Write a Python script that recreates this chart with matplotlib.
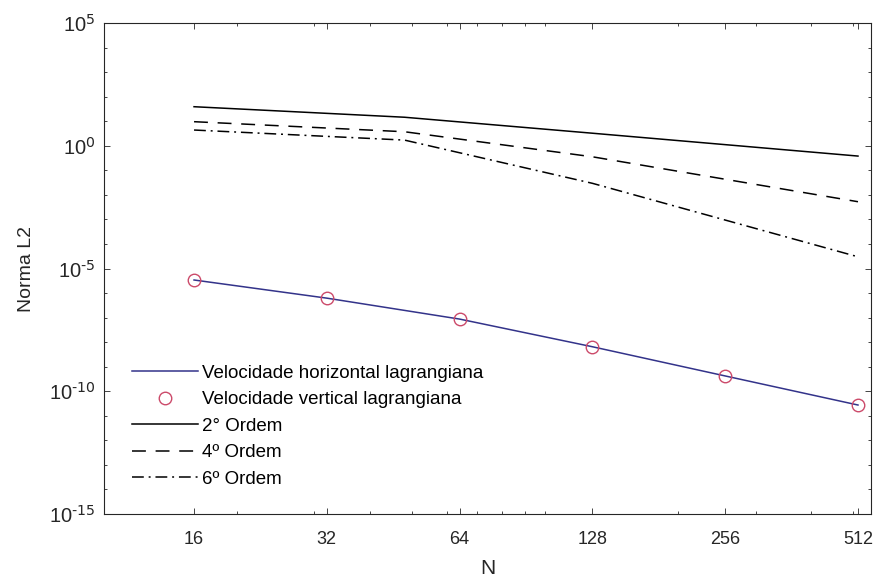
import matplotlib
matplotlib.use("Agg")
import matplotlib.pyplot as plt
from matplotlib.ticker import FixedLocator, NullFormatter

plt.rcParams["font.family"] = ["Liberation Sans", "DejaVu Sans"]
plt.rcParams["axes.unicode_minus"] = False
plt.rcParams["mathtext.default"] = "regular"
plt.rcParams["lines.scale_dashes"] = False

# Grid sizes and L2 norm of the lagrangian velocity error
N = [16, 32, 64, 128, 256, 512]
vel_horizontal = [3.4e-6, 6.2e-7, 8.7e-8, 6.5e-9, 4.2e-10, 2.75e-11]
vel_vertical = [3.4e-6, 6.2e-7, 8.7e-8, 6.5e-9, 4.2e-10, 2.75e-11]

# Reference curves for the 2nd, 4th and 6th order schemes
N_ordem = [16, 48, 128, 512]
ordem2 = [38.9, 14.5, 3.24, 0.38]
ordem4 = [9.55, 3.72, 0.355, 5.25e-3]
ordem6 = [4.37, 1.70, 0.0295, 3.0e-5]

x_ticks = [16, 32, 64, 128, 256, 512]
x_minor = [20, 30, 40, 50, 60, 70, 80, 90, 100, 200, 300, 400, 500]
y_exponents = [-15, -10, -5, 0, 5]
y_minor = [10.0 ** k for k in range(-15, 6) if k % 5 != 0]

labels = ["Velocidade horizontal lagrangiana", "Velocidade vertical lagrangiana",
          "2° Ordem", "4º Ordem", "6º Ordem"]

fig = plt.figure(figsize=(8.78, 5.83), dpi=100)
ax = fig.add_axes([104 / 878, 1 - 514 / 583, 767 / 878, 491 / 583])

ax.plot(N, vel_horizontal, color="#33338a", lw=1.1, label=labels[0])
ax.plot(N, vel_vertical, ls="none", marker="o", ms=9, mfc="none",
        mec="#cc4a6a", mew=1.0, label=labels[1])
ax.plot(N_ordem, ordem2, color="black", lw=1.1, ls="-", label=labels[2])
ax.plot(N_ordem, ordem4, color="black", lw=1.1, ls=(0, (10, 7)), label=labels[3])
ax.plot(N_ordem, ordem6, color="black", lw=1.1, ls=(0, (8.5, 3.5, 1.4, 3.5)), label=labels[4])

ax.set_xscale("log")
ax.set_yscale("log")
ax.set_xlim(10, 548)
ax.set_ylim(1e-15, 1e5)

ax.xaxis.set_major_locator(FixedLocator(x_ticks))
ax.set_xticklabels([str(v) for v in x_ticks])
ax.xaxis.set_minor_locator(FixedLocator(x_minor))
ax.xaxis.set_minor_formatter(NullFormatter())
ax.yaxis.set_major_locator(FixedLocator([10.0 ** e for e in y_exponents]))
ax.set_yticklabels([r"$10^{\text{%d}}$" % e for e in y_exponents])
ax.yaxis.set_minor_locator(FixedLocator(y_minor))
ax.yaxis.set_minor_formatter(NullFormatter())

frame = "#262626"
for s in ax.spines.values():
    s.set_color(frame)
    s.set_linewidth(0.8)
ax.tick_params(which="both", direction="in", top=True, right=True, color=frame,
               labelcolor=frame, width=0.6)
ax.tick_params(axis="x", which="major", length=4.2, pad=12, labelsize=13)
ax.tick_params(axis="y", which="major", length=4.2, pad=6, labelsize=14.5)
ax.tick_params(which="minor", length=2.4)

ax.set_xlabel("N", fontsize=15, color=frame, labelpad=8)
ax.set_ylabel("Norma L2", fontsize=14, color=frame, labelpad=10)

leg = ax.legend(loc="lower left", bbox_to_anchor=(0.034, 0.05), frameon=True,
                fontsize=13.5, handlelength=3.5, handletextpad=0.25,
                labelspacing=0.5, borderpad=0.1, borderaxespad=0)
leg.get_frame().set_edgecolor("none")
leg.get_frame().set_facecolor("white")

fig.savefig("out.png", dpi=100)
